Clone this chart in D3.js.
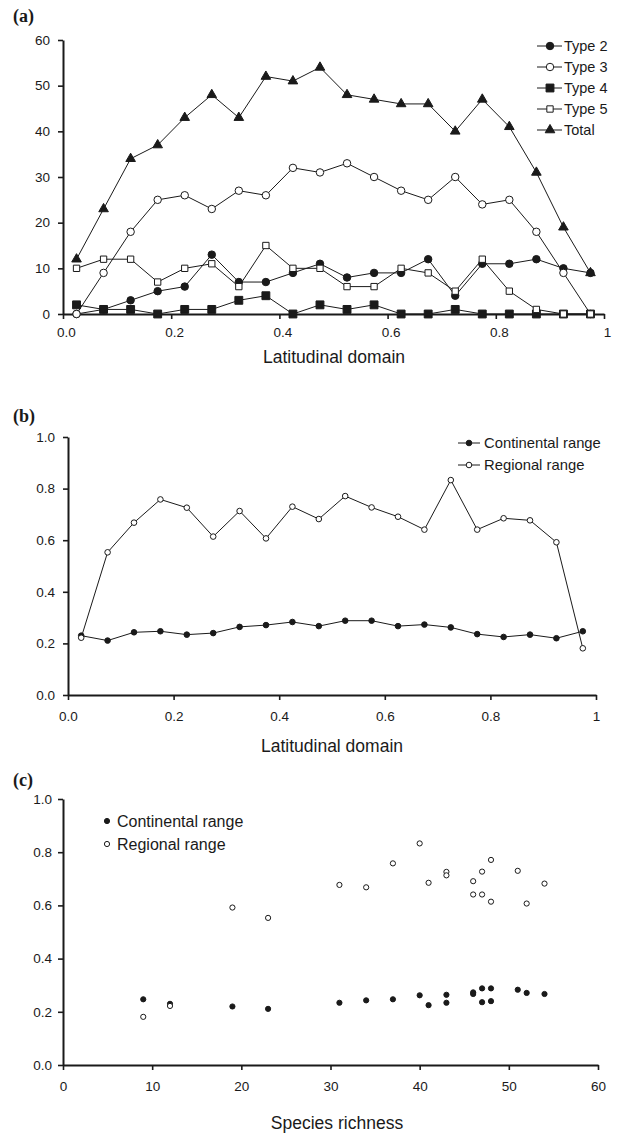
<!DOCTYPE html>
<html><head><meta charset="utf-8">
<script src="https://cdn.jsdelivr.net/npm/d3@7"></script>
<style>
html,body{margin:0;padding:0;background:#fff;}
svg{display:block;}
text{font-family:"Liberation Sans",Arial,sans-serif;fill:#1a1a1a;}
.plab{font-family:"Liberation Serif","Times New Roman",serif;font-weight:bold;font-size:18px;}
</style>
</head><body>
<svg id="c" width="620" height="1136"></svg>
<script>
// ---------- DATA ----------
const latitude = [0.025,0.075,0.125,0.175,0.225,0.275,0.325,0.375,0.425,0.475,0.525,0.575,0.625,0.675,0.725,0.775,0.825,0.875,0.925,0.975];
const type2 = [0,1,3,5,6,13,7,7,9,11,8,9,9,12,4,11,11,12,10,9];
const type3 = [0,9,18,25,26,23,27,26,32,31,33,30,27,25,30,24,25,18,9,0];
const type4 = [2,1,1,0,1,1,3,4,0,2,1,2,0,0,1,0,0,0,0,0];
const type5 = [10,12,12,7,10,11,6,15,10,10,6,6,10,9,5,12,5,1,0,0];
const total = [12,23,34,37,43,48,43,52,51,54,48,47,46,46,40,47,41,31,19,9];
const continental = [0.230,0.211,0.243,0.247,0.234,0.240,0.264,0.271,0.283,0.267,0.288,0.288,0.267,0.273,0.262,0.236,0.225,0.234,0.220,0.247];
const regional = [0.222,0.553,0.668,0.758,0.726,0.614,0.713,0.607,0.730,0.682,0.771,0.727,0.691,0.641,0.833,0.641,0.685,0.677,0.592,0.181];
const latTicks = [0,0.2,0.4,0.6,0.8,1];
const latTickLabels = ["0.0","0.2","0.4","0.6","0.8","1"];
const countTicks = [0,10,20,30,40,50,60];
const propTicks = [0,0.2,0.4,0.6,0.8,1.0];
const richTicks = [0,10,20,30,40,50,60];
const seriesA = [
  {name:"Type 2", values:type2, shape:"circle", fill:"#1a1a1a"},
  {name:"Type 3", values:type3, shape:"circle", fill:"#fff"},
  {name:"Type 4", values:type4, shape:"square", fill:"#1a1a1a"},
  {name:"Type 5", values:type5, shape:"square", fill:"#fff"},
  {name:"Total",  values:total, shape:"triangle", fill:"#1a1a1a"}
];
const seriesB = [
  {name:"Continental range", values:continental, fill:"#1a1a1a"},
  {name:"Regional range", values:regional, fill:"#fff"}
];

// ---------- DRAW ----------
const svg = d3.select("#c");
const ink = "#1a1a1a";

function symPath(shape, fill){
  let type = shape==="circle"?d3.symbolCircle:shape==="square"?d3.symbolSquare:d3.symbolTriangle;
  let size;
  if(shape==="circle") size = 44;
  else if(shape==="square") size = fill==="#fff"?40:62;
  else size = 40;
  return d3.symbol().type(type).size(size)();
}

function styleAxis(g){
  g.select(".domain").attr("stroke",ink).attr("stroke-width",2);
  g.selectAll(".tick line").attr("stroke",ink).attr("stroke-width",1.6);
  g.selectAll(".tick text").attr("fill",ink).style("font-size","13.5px").style("font-family","'Liberation Sans',Arial,sans-serif");
}

// ===== Panel (a) =====
{
  const x = d3.scaleLinear().domain([0,1]).range([63,604]);
  const y = d3.scaleLinear().domain([0,60]).range([314,40]);
  svg.append("text").attr("class","plab").attr("x",13).attr("y",22).text("(a)");
  const gy = svg.append("g").attr("transform","translate(63,0)")
    .call(d3.axisLeft(y).tickValues(countTicks).tickSize(5).tickSizeOuter(0).tickPadding(8));
  styleAxis(gy);
  const gx = svg.append("g").attr("transform","translate(0,314)")
    .call(d3.axisBottom(x).tickValues(latTicks).tickFormat((d,i)=>latTickLabels[i]).tickSize(5).tickSizeOuter(0).tickPadding(8));
  styleAxis(gx);
  gx.selectAll(".tick text").attr("dx",3);
  const line = d3.line().x((d,i)=>x(latitude[i])).y(d=>y(d));
  seriesA.forEach(s=>{
    const g = svg.append("g");
    g.append("path").attr("d",line(s.values)).attr("fill","none").attr("stroke",ink).attr("stroke-width",1);
    g.selectAll("path.m").data(s.values).enter().append("path").attr("class","m")
      .attr("d",symPath(s.shape,s.fill))
      .attr("transform",(d,i)=>`translate(${x(latitude[i])},${y(d)})`)
      .attr("fill",s.fill).attr("stroke",ink).attr("stroke-width",1);
  });
  svg.append("text").attr("x",334).attr("y",363).attr("text-anchor","middle").style("font-size","17.5px").text("Latitudinal domain");
  const lg = svg.append("g");
  seriesA.forEach((s,i)=>{
    const yy = 46 + i*21;
    lg.append("line").attr("x1",537).attr("x2",562).attr("y1",yy).attr("y2",yy).attr("stroke",ink).attr("stroke-width",1);
    lg.append("path").attr("d",symPath(s.shape,s.fill)).attr("transform",`translate(550,${yy})`).attr("fill",s.fill).attr("stroke",ink);
    lg.append("text").attr("x",564).attr("y",yy+5).style("font-size","14.5px").text(s.name);
  });
}

// ===== Panel (b) =====
{
  const x = d3.scaleLinear().domain([0,1]).range([68,596]);
  const y = d3.scaleLinear().domain([0,1]).range([695,437]);
  svg.append("text").attr("class","plab").attr("x",13).attr("y",422).text("(b)");
  const gy = svg.append("g").attr("transform","translate(68,0)")
    .call(d3.axisLeft(y).tickValues(propTicks).tickFormat(d3.format(".1f")).tickSize(5).tickSizeOuter(0).tickPadding(8));
  styleAxis(gy);
  const gx = svg.append("g").attr("transform","translate(0,695)")
    .call(d3.axisBottom(x).tickValues(latTicks).tickFormat((d,i)=>latTickLabels[i]).tickSize(5).tickSizeOuter(0).tickPadding(11));
  styleAxis(gx);
  const line = d3.line().x((d,i)=>x(latitude[i])).y(d=>y(d));
  seriesB.forEach(s=>{
    const g = svg.append("g");
    g.append("path").attr("d",line(s.values)).attr("fill","none").attr("stroke",ink).attr("stroke-width",1);
    g.selectAll("circle").data(s.values).enter().append("circle")
      .attr("cx",(d,i)=>x(latitude[i])).attr("cy",d=>y(d)).attr("r",2.8)
      .attr("fill",s.fill).attr("stroke",ink).attr("stroke-width",1);
  });
  svg.append("text").attr("x",332).attr("y",752).attr("text-anchor","middle").style("font-size","17.5px").text("Latitudinal domain");
  const lg = svg.append("g");
  seriesB.forEach((s,i)=>{
    const yy = 443 + i*22;
    lg.append("line").attr("x1",458).attr("x2",480).attr("y1",yy).attr("y2",yy).attr("stroke",ink).attr("stroke-width",1);
    lg.append("circle").attr("cx",469).attr("cy",yy).attr("r",2.8).attr("fill",s.fill).attr("stroke",ink);
    lg.append("text").attr("x",484).attr("y",yy+5).style("font-size","14.8px").text(s.name);
  });
}

// ===== Panel (c) =====
{
  const x = d3.scaleLinear().domain([0,60]).range([63,598]);
  const y = d3.scaleLinear().domain([0,1]).range([1065,799]);
  svg.append("text").attr("class","plab").attr("x",13).attr("y",786).text("(c)");
  const gy = svg.append("g").attr("transform","translate(63,0)")
    .call(d3.axisLeft(y).tickValues(propTicks).tickFormat(d3.format(".1f")).tickSize(5).tickSizeOuter(0).tickPadding(6));
  styleAxis(gy);
  const gx = svg.append("g").attr("transform","translate(0,1065)")
    .call(d3.axisBottom(x).tickValues(richTicks).tickSize(5).tickSizeOuter(0).tickPadding(11));
  styleAxis(gx);
  seriesB.forEach(s=>{
    svg.append("g").selectAll("circle").data(s.values).enter().append("circle")
      .attr("cx",(d,i)=>x(total[i])).attr("cy",d=>y(d)).attr("r",2.6)
      .attr("fill",s.fill).attr("stroke",ink).attr("stroke-width",1);
  });
  svg.append("text").attr("x",337).attr("y",1129).attr("text-anchor","middle").style("font-size","17.5px").text("Species richness");
  const lg = svg.append("g");
  seriesB.forEach((s,i)=>{
    const yy = 821 + i*23;
    lg.append("circle").attr("cx",107).attr("cy",yy).attr("r",2.6).attr("fill",s.fill).attr("stroke",ink);
    lg.append("text").attr("x",117).attr("y",yy+5.5).style("font-size","16px").text(s.name);
  });
}
</script>
</body></html>
